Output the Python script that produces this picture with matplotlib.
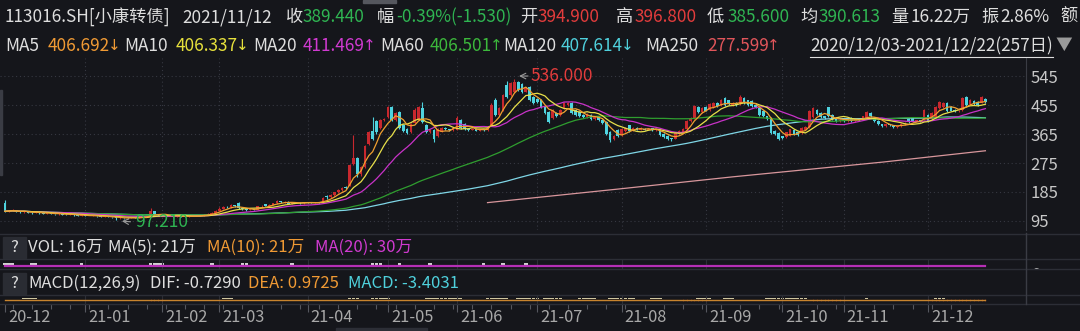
import matplotlib
matplotlib.use('Agg')
import matplotlib.pyplot as plt
from matplotlib.patches import Rectangle
from matplotlib.lines import Line2D
import numpy as np
import pandas as pd

plt.rcParams['font.family'] = ['Noto Sans CJK SC', 'DejaVu Sans']

# 日K数据 2020/12/03-2021/12/22 (257日)
opens = [150,125,127,128,124,122,125,121,120,122,
         119,118,120,117,116,118,115,114,116,113,
         112,113,111,110,112,109,108,110,107,106,
         104,105,103,104,106,105,107,108,110,126,
         116,114,112,110,111,109,110,108,109,111,
         110,112,113,115,117,121,127,133,139,137,
         144,152,134,131,129,131,130,140,147,142,
         146,150,156,153,155,149,151,152,150,153,
         152,151,153,152,172,168,176,184,190,202,
         205,272,291,240,262,335,375,405,383,408,
         418,449,410,434,393,380,370,400,410,446,
         393,372,378,360,372,385,380,376,378,410,
         395,380,378,382,375,380,377,393,470,425,
         440,517,486,495,526,520,496,511,480,475,
         471,449,434,415,430,425,446,455,461,440,
         434,425,418,424,412,420,410,403,372,350,
         378,362,375,392,375,384,378,382,378,383,
         376,378,365,360,352,350,365,372,380,405,
         415,450,432,449,440,448,462,455,478,470,
         455,462,458,478,470,468,455,445,438,420,
         415,375,368,358,356,360,378,370,368,378,
         386,418,440,430,420,448,425,415,405,410,
         405,415,405,410,410,415,430,415,405,394.9,
         390,395,392,386,390,396,412,415,405,408,
         412,425,412,418,445,448,462,450,440,436,
         440,480,458,468,465,462,474]
closes = [125,127,128,124,122,125,121,120,122,119,
          118,120,117,116,118,115,114,116,113,112,
          113,111,110,112,109,108,110,107,106,104,
          105,103,104,106,105,107,108,110,126,116,
          114,112,110,111,109,110,108,109,111,110,
          112,113,115,117,121,127,133,139,137,144,
          140,134,131,129,131,130,140,143,142,146,
          150,156,153,155,149,151,152,150,153,152,
          151,153,152,165,168,176,184,190,198,196,
          268,290,240,262,328,370,350,372,408,412,
          449,409,430,384,375,369,395,440,450,403,
          372,378,350,380,385,380,376,385,415,385,
          380,378,382,375,380,377,383,455,425,445,
          486,480,523,525,502,495,508,470,462,465,
          450,431,403,440,420,440,461,460,431,425,
          420,418,428,412,418,408,398,365,345,360,
          360,380,385,375,385,378,384,378,382,376,
          380,362,355,350,348,368,375,380,405,415,
          452,432,446,438,458,462,452,470,455,458,
          462,456,480,462,455,452,448,425,420,412,
          369,365,350,352,370,380,365,362,385,386,
          438,446,428,418,414,420,412,405,410,404,
          416,405,410,408,420,433,420,405,395,389.44,
          395,392,386,389,396,400,402,405,408,404,
          440,405,430,449,465,460,436,438,436,438,
          477,456,470,458,456,480,465]
highs = [160,130,131,129,125,127,126,122,124,123,
         120,121,121,118,119,118,116,117,116,114,
         114,113,112,113,112,110,111,110,108,106,
         106,105,106,107,107,108,109,112,135,127,
         117,115,113,112,112,111,111,110,112,112,
         113,115,116,119,124,130,137,143,142,148,
         146,155,136,133,133,133,142,145,149,148,
         152,159,158,157,156,153,154,153,155,154,
         153,155,154,168,175,178,186,193,201,204,
         272,363,295,265,332,374,418,410,412,415,
         452,452,434,436,395,384,398,446,452,465,
         395,381,380,383,388,388,382,388,420,412,
         398,382,384,384,382,382,385,461,478,448,
         490,530,528,536,530,522,511,514,484,478,
         474,452,437,444,433,443,464,463,463,442,
         436,427,431,426,421,422,412,405,374,363,
         380,383,388,394,387,386,386,384,384,385,
         382,380,367,362,354,370,378,383,408,418,
         456,452,449,451,461,465,464,473,480,472,
         465,464,486,480,472,470,457,447,440,422,
         418,377,370,360,372,382,380,372,387,389,
         441,449,442,432,422,450,427,417,412,412,
         418,417,412,412,422,436,432,417,407,396.8,
         397,397,394,391,398,402,414,417,410,410,
         443,427,433,452,468,463,464,452,442,440,
         480,482,473,470,467,483,476]
lows = [122,123,125,122,120,121,120,118,119,118,
        116,117,116,115,115,114,113,113,112,111,
        111,110,109,109,108,107,107,106,104,97.21,
        102,101,102,103,104,104,106,107,109,114,
        112,111,109,109,108,108,107,107,108,109,
        109,111,112,114,116,120,126,131,134,136,
        138,132,129,127,128,128,129,138,140,141,
        144,149,151,152,147,148,150,149,149,150,
        150,150,151,151,164,166,174,182,188,193,
        203,268,232,236,258,330,345,365,380,405,
        415,405,405,380,370,365,368,398,408,400,
        368,369,341,356,370,377,373,374,376,382,
        376,375,376,373,373,375,375,390,420,422,
        438,476,484,492,498,492,494,466,458,461,
        446,428,400,412,417,422,443,452,428,422,
        417,415,416,409,410,405,395,362,341,347,
        357,360,372,372,373,376,376,376,376,374,
        374,359,352,347,344,348,363,370,378,403,
        413,429,430,435,438,446,449,453,452,455,
        453,453,456,459,452,449,445,422,417,409,
        366,362,347,348,354,358,362,359,366,376,
        384,416,425,415,411,417,409,402,403,402,
        403,403,403,406,408,413,417,402,392,385.6,
        388,390,384,384,388,394,400,403,403,402,
        410,403,410,416,443,446,433,435,434,434,
        438,453,456,455,453,460,462]

# MA250 只在后半段可见, 直接读线
ma250_idx = [126, 160, 190, 229, 256]
ma250_val = [152, 194, 232, 277.6, 313]

price_ticks = [545, 455, 365, 275, 185, 95]
month_idx = [0, 21, 41, 56, 79, 100, 118, 139, 161, 183, 203, 219, 241]
date_labels = ['20-12', '21-01', '21-02', '21-03', '21-04', '21-05', '21-06',
               '21-07', '21-08', '21-09', '21-10', '21-11', '21-12']

vol_blips = [0, 1, 2, 7, 8, 20, 38, 39, 40, 41, 54, 62, 63, 75, 96, 97, 98, 103, 111, 125, 130, 136]
macd_bar_start = [5, 57, 90, 96, 110, 116, 126, 134, 141, 150, 158, 169, 181, 188, 199, 203, 225, 243]
macd_bar_end = [8, 59, 92, 100, 115, 119, 131, 139, 145, 154, 164, 171, 184, 190, 202, 209, 225, 245]
macd_neg_start = [38, 177, 211, 241]
macd_neg_end = [41, 183, 219, 256]

BG = '#15161b'
WHITE = '#dedede'
RED = '#e23c3c'
GREEN = '#2fb552'
ORANGE = '#f09a34'
YELLOW = '#e6e03c'
MAGENTA = '#d03ad0'
MGREEN = '#3cb83c'
CYAN = '#4fd0dc'
PINK = '#e0555a'
GRID = '#363841'
SEP = '#2c2e36'

W, H = 1080, 331
fig = plt.figure(figsize=(W / 100, H / 100), dpi=100, facecolor=BG)
renderer = fig.canvas.get_renderer()


def rect(x0, y0, x1, y1):
    return [x0 / W, 1 - y1 / H, (x1 - x0) / W, (y1 - y0) / H]


def ftext(x, y, s, color=WHITE, size=12.4, **kw):
    return fig.text(x / W, 1 - y / H, s, color=color, fontsize=size, ha='left', va='center', **kw)


def hline(y, x0=0, x1=W, color=SEP, lw=1):
    fig.add_artist(Line2D([x0 / W, x1 / W], [1 - y / H, 1 - y / H], color=color, lw=lw,
                          transform=fig.transFigure))


o = np.array(opens, float)
c = np.array(closes, float)
h = np.array(highs, float)
l = np.array(lows, float)
idx = np.arange(len(c))
XLIM = (-1.3, 266.6)

# 主图
ax = fig.add_axes(rect(0, 58, 1026, 230))
ax.set_facecolor(BG)
ax.set_xlim(*XLIM)
ax.set_ylim(67, 601)
for p in price_ticks:
    ax.axhline(p, color=GRID, lw=0.8, ls=(0, (1, 2.5)), zorder=0)
for m in month_idx[1:]:
    ax.axvline(m, color=GRID, lw=0.8, ls=(0, (1, 2.5)), zorder=0)

up = c >= o
cols = np.where(up, '#c8282e', '#4fd3df')
ax.vlines(idx, l, h, colors=cols, lw=0.8, zorder=2)
ax.bar(idx, np.maximum(np.abs(c - o), 1.0), bottom=np.minimum(o, c), width=0.7,
       color=cols, linewidth=0, zorder=2)

s = pd.Series(c)
for n, col in [(120, '#7fd6e6'), (60, '#2f9e2f'), (20, '#c832c8'), (10, '#e8e04a'), (5, '#f0a030')]:
    ax.plot(idx, s.rolling(n, min_periods=1).mean(), color=col, lw=0.9, zorder=3)
ax.plot(ma250_idx, ma250_val, color='#d8969c', lw=0.9, zorder=3)

# 最高/最低标注
hi_i = int(np.argmax(h))
lo_i = int(np.argmin(l))
ax.annotate('', xy=(hi_i + 0.5, 545), xytext=(hi_i + 4.3, 545),
            arrowprops=dict(arrowstyle='->', color='#9a9a9a', lw=0.8))
ax.text(hi_i + 4.3, 545, '%.3f' % h[hi_i], color=RED, fontsize=12.5, va='center', ha='left')
ax.annotate('', xy=(lo_i + 0.8, 95), xytext=(lo_i + 4.5, 92),
            arrowprops=dict(arrowstyle='->', color='#9a9a9a', lw=0.8))
ax.text(lo_i + 5.0, 92, '%.3f' % l[lo_i], color=GREEN, fontsize=12.5, va='center', ha='left')

ax.set_yticks(price_ticks)
ax.yaxis.tick_right()
ax.tick_params(axis='y', length=0, pad=3, labelsize=12, labelcolor='#c8c8c8')
ax.set_xticks([])
for sp in ['top', 'left', 'bottom']:
    ax.spines[sp].set_visible(False)
ax.spines['right'].set_color('#3a3c44')

# 成交量
axv = fig.add_axes(rect(0, 259, 1026, 269))
axv.set_facecolor(BG)
axv.set_xlim(*XLIM)
axv.set_ylim(0, 1)
for d in month_idx[1:]:
    axv.axvline(d, color=SEP, lw=0.8)
axv.bar(vol_blips, 0.18, bottom=0.45, width=0.9, color='#d0d0d0', linewidth=0)
axv.plot([0, 256], [0.3, 0.3], color='#b52fb5', lw=1.6)
axv.axis('off')

# MACD
axm = fig.add_axes(rect(0, 295, 1026, 304))
axm.set_facecolor(BG)
axm.set_xlim(*XLIM)
axm.set_ylim(0, 1)
for d in month_idx[1:]:
    axm.axvline(d, color=SEP, lw=0.8)
for a, b in zip(macd_bar_start, macd_bar_end):
    axm.bar(np.arange(a, b + 1), 0.12, bottom=0.52, width=0.9, color='#cfc6a0', linewidth=0)
for a, b in zip(macd_neg_start, macd_neg_end):
    axm.vlines(np.arange(a, b + 1), 0.3, 0.55, color='#6e2a22', lw=0.6)
axm.plot([0, 256], [0.48, 0.48], color='#c8842e', lw=1.0)
axm.axis('off')

# 右侧被截断的刻度
for y0, y1, lab, ty in [(259, 269, '0', -0.6), (295, 304, '-20', -0.9)]:
    axr = fig.add_axes(rect(1026, y0, 1080, y1))
    axr.set_facecolor(BG)
    axr.axis('off')
    axr.text(0.1, ty, lab, transform=axr.transAxes, color='#c8c8c8', fontsize=12,
             va='center', ha='left', clip_on=True)

# 日期轴
axd = fig.add_axes(rect(0, 304, 1026, 328))
axd.set_facecolor(BG)
axd.set_xlim(*XLIM)
axd.set_ylim(0, 24)
axd.vlines(np.arange(2, 257, 5), 19, 24, color='#55575f', lw=0.8)
axd.vlines(month_idx, 16, 24, color='#55575f', lw=0.8)
for d, lab in zip(month_idx, date_labels):
    axd.text(d + 0.8, 10, lab, color='#a8a8a8', fontsize=11.8, va='center', ha='left')
axd.axis('off')

# 分隔线
for y in [233.5, 259, 269, 295, 304]:
    hline(y)
fig.add_artist(Line2D([1026 / W, 1026 / W], [1 - 233 / H, 1 - 304 / H], color='#3a3c44', lw=1,
                      transform=fig.transFigure))
fig.add_artist(Rectangle((336 / W, 0), 91 / W, 3 / H, transform=fig.transFigure, color='#2c2e36'))
fig.add_artist(Rectangle((363 / W, 1 - 3 / H), 33 / W, 3 / H, transform=fig.transFigure, color='#55575e'))
fig.add_artist(Rectangle((0, 1 - 175 / H), 2 / W, 85 / H, transform=fig.transFigure, color='#3a3c44'))

# 顶部信息栏
row1 = [(5, '113016.SH[小康转债]', WHITE), (182, '2021/11/12', WHITE), (286, '收', WHITE),
        (303, '389.440', GREEN), (377, '幅', WHITE), (396, '-0.39%(-1.530)', GREEN),
        (520, '开', WHITE), (538, '394.900', RED), (616, '高', WHITE), (635, '396.800', RED),
        (707, '低', WHITE), (728, '385.600', GREEN), (800, '均', WHITE), (819, '390.613', GREEN),
        (891, '量', WHITE), (910, '16.22万', WHITE), (981, '振', WHITE), (1000, '2.86%', WHITE),
        (1060, '额', WHITE)]
for x, t, col in row1:
    ftext(x, 17, t, col)

row2 = [(5, 'MA5', WHITE), (124, 'MA10', WHITE), (253, 'MA20', WHITE), (380, 'MA60', WHITE),
        (503, 'MA120', WHITE), (645, 'MA250', WHITE)]
for x, t, col in row2:
    ftext(x, 46, t, col)
ma_vals = [(48, '406.692', '↓', ORANGE), (176, '406.337', '↓', YELLOW), (303, '411.469', '↑', MAGENTA),
           (430, '406.501', '↑', MGREEN), (561, '407.614', '↓', CYAN), (707, '277.599', '↑', PINK)]
for x, v, arr, col in ma_vals:
    t = ftext(x, 46, v, col)
    bb = t.get_window_extent(renderer)
    fig.text(bb.x1 / W - 2 / W, 1 - 46 / H, arr, color=col, fontsize=11, ha='left', va='center',
             family='DejaVu Sans')
ftext(810, 46, '2020/12/03-2021/12/22(257日)', WHITE)
hline(56.5, 810, 1053, color=WHITE, lw=0.8)
ftext(1055, 45, '▼', '#9a9a9a', 12)

# 副图标题
for y0 in [237, 273]:
    fig.add_artist(Rectangle((3 / W, 1 - (y0 + 21) / H), 23 / W, 21 / H, transform=fig.transFigure,
                             color='#2a2c33'))
    ftext(10, y0 + 10.5, '?', WHITE, 12)
vol_hdr = [(28, 'VOL: 16万', WHITE), (108, 'MA(5): 21万', WHITE), (207, 'MA(10): 21万', ORANGE),
           (315, 'MA(20): 30万', MAGENTA)]
for x, t, col in vol_hdr:
    ftext(x, 247, t, col, 12)
macd_hdr = [(28, 'MACD(12,26,9)', WHITE), (150, 'DIF: -0.7290', WHITE), (248, 'DEA: 0.9725', ORANGE),
            (348, 'MACD: -3.4031', CYAN)]
for x, t, col in macd_hdr:
    ftext(x, 283, t, col, 12)

fig.savefig('out.png', dpi=100, facecolor=BG)
